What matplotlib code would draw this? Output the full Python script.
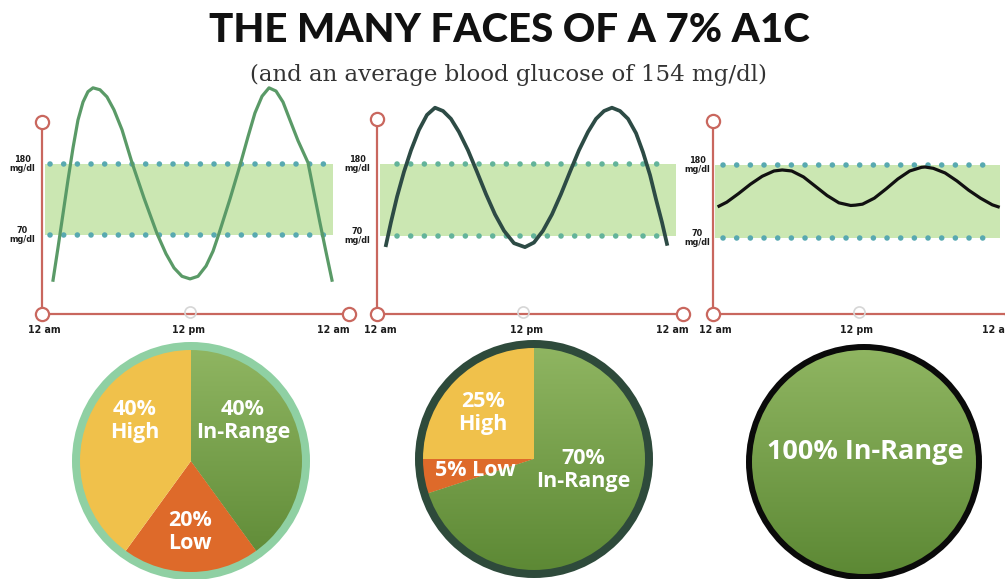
import numpy as np
import matplotlib
matplotlib.use("Agg")
import matplotlib.pyplot as plt
from matplotlib.patches import Circle
from matplotlib.colors import LinearSegmentedColormap

W, H, DPI = 1005, 579, 100

TITLE = "THE MANY FACES OF A 7% A1C"
SUBTITLE = "(and an average blood glucose of 154 mg/dl)"

TARGET_LOW, TARGET_HIGH = 70, 180
TIME_TICKS = [0, 12, 24]
TIME_LABELS = ["12 am", "12 pm", "12 am"]

# Glucose traces over one day: hours since midnight and mg/dl
hours_wide = [0.75, 1.16, 1.58, 1.99, 2.41, 2.82, 3.24, 3.65, 4.07, 4.65, 5.23, 5.81,
              6.48, 7.31, 8.31, 9.39, 10.13, 10.80, 11.46, 12.13, 12.79, 13.46, 14.04,
              14.53, 15.45, 16.28, 16.94, 17.52, 18.11, 18.69, 19.27, 19.85, 20.43,
              21.10, 21.93, 22.43, 22.92, 23.42, 23.92]
glucose_wide = [0, 50, 103, 155, 205, 248, 276, 292, 298, 295, 284, 264,
                233, 182, 127, 72, 41, 19, 6, 2, 6, 22, 45,
                72, 126, 178, 222, 259, 285, 298, 293, 276, 248,
                216, 182, 135, 89, 44, 0]

hours_mid = [0.49, 0.90, 1.40, 1.97, 2.55, 3.20, 3.86, 4.52, 5.18, 5.83, 6.49, 7.23,
             7.97, 8.71, 9.45, 10.19, 11.01, 11.91, 12.65, 13.39, 14.13, 14.87, 15.61,
             16.35, 17.09, 17.75, 18.41, 19.06, 19.72, 20.38, 21.04, 21.61, 22.19,
             22.68, 23.17, 23.58]
glucose_mid = [56, 91, 130, 168, 201, 232, 255, 266, 261, 249, 229, 201,
               168, 134, 103, 78, 59, 53, 60, 78, 103, 134, 168,
               201, 229, 249, 261, 266, 261, 249, 227, 198, 163,
               126, 91, 58]

hours_tight = [0.34, 1.0, 2.0, 3.0, 4.0, 5.0, 5.7, 6.5, 7.5, 8.5, 9.5, 10.5, 11.5, 11.9,
               12.5, 13.5, 14.5, 15.5, 16.5, 17.5, 17.8, 18.5, 19.5, 20.5, 21.5, 22.5,
               23.5, 24.0]
glucose_tight = [118, 124, 137, 151, 163, 171, 172.5, 171, 162, 148, 134, 123, 119, 119.5,
                 121, 130, 144, 159, 171, 176.5, 177, 175, 168, 156, 142, 130,
                 120, 117]

# Share of the day spent in each zone (percent)
ZONES = ["In-Range", "Low", "High"]
share_wide = [40, 20, 40]
share_mid = [70, 5, 25]
share_tight = [100]

AXIS_RED = "#c9675e"
BAND_GREEN = "#cbe7b2"
IN_RANGE = "#74a046"
LOW_ORANGE = "#de6a2a"
HIGH_YELLOW = "#f0c14b"

COND = ["DejaVu Sans"]
PIE_FONT = ["Open Sans", "DejaVu Sans"]

fig = plt.figure(figsize=(W / DPI, H / DPI), dpi=DPI)
fig.patch.set_facecolor("white")


def px_axes(left, top, width, height):
    return fig.add_axes([left / W, 1 - (top + height) / H, width / W, height / H])


def glucose_panel(hours, glucose, spec):
    vx, top_y, base_y, right_x = spec["vx"], spec["top_y"], spec["base_y"], spec["right_x"]
    x0, pph, y70, y180 = spec["x0"], spec["pph"], spec["y70"], spec["y180"]
    mpp = (TARGET_HIGH - TARGET_LOW) / (y70 - y180)
    ax_top = 60
    ax = px_axes(vx, ax_top, spec["band"][1] - vx, base_y - ax_top)

    def hx(px):
        return (px - x0) / pph

    def gy(py):
        return TARGET_LOW + (y70 - py) * mpp

    ax.set_xlim(hx(vx), hx(spec["band"][1]))
    ax.set_ylim(gy(base_y), gy(ax_top))
    ax.axis("off")

    # target band and its dotted edges
    ax.fill_between([hx(spec["band"][0]), hx(spec["band"][1])], TARGET_LOW, TARGET_HIGH,
                    color=BAND_GREEN, lw=0, zorder=1)
    for lvl in (TARGET_LOW, TARGET_HIGH):
        ax.plot([hx(spec["dots"][0]), hx(spec["dots"][1])], [lvl, lvl],
                ls=(0, (0.01, 2.45)), lw=4.0, dash_capstyle="round",
                color=spec["dot"], zorder=2, clip_on=False)

    # glucose trace
    ax.plot(hours, glucose, color=spec["line"], lw=spec["lw"], zorder=4,
            solid_joinstyle="round", clip_on=False)

    # axes drawn as lines with open circle ends
    ax.plot([hx(vx), hx(vx)], [gy(top_y), gy(base_y)], color=AXIS_RED, lw=1.6,
            zorder=5, clip_on=False)
    ax.plot([hx(vx), hx(right_x)], [gy(base_y), gy(base_y)], color=AXIS_RED, lw=1.6,
            zorder=5, clip_on=False)
    for px, py in [(vx, top_y), (vx, base_y), (right_x, base_y)]:
        ax.plot([hx(px)], [gy(py)], "o", ms=9.5, mfc="white", mec=AXIS_RED, mew=1.6,
                zorder=6, clip_on=False)
    ax.plot([hx(spec["mid_x"])], [gy(base_y - 2)], "o", ms=8, mfc="none",
            mec="#d6d6d6", mew=1.2, zorder=6, clip_on=False)

    for t, lab in zip(TIME_TICKS, TIME_LABELS):
        ax.text(t, gy(base_y + 16), lab, ha="center", va="center", fontsize=7.6,
                fontweight="bold", family=COND, fontstretch="condensed",
                color="#1c1c1c", clip_on=False)
    for lvl in (TARGET_HIGH, TARGET_LOW):
        ax.text(hx(spec["label_x"]), lvl, f"{lvl}\nmg/dl", ha="center", va="center",
                fontsize=6.5, fontweight="bold", family=COND, fontstretch="condensed",
                color="#1c1c1c", linespacing=0.95, clip_on=False)
    return ax


panels = [
    (hours_wide, glucose_wide,
     dict(vx=42, top_y=122, base_y=314, right_x=349, x0=44, pph=12.04, y70=235, y180=164,
          band=(45, 333), dots=(50, 326), mid_x=190, label_x=22,
          dot="#58a9b0", line="#5a9a67", lw=2.3)),
    (hours_mid, glucose_mid,
     dict(vx=377, top_y=119, base_y=314, right_x=683, x0=380, pph=12.17, y70=236, y180=164,
          band=(380, 676), dots=(397, 664), mid_x=523, label_x=357,
          dot="#63b39a", line="#2d4b45", lw=2.7)),
    (hours_tight, glucose_tight,
     dict(vx=713, top_y=121, base_y=314, right_x=1012, x0=715, pph=11.8, y70=238, y180=165,
          band=(715, 1000), dots=(723, 995), mid_x=859, label_x=697,
          dot="#58a9b0", line="#111111", lw=2.3)),
]
for hrs, glu, spec in panels:
    glucose_panel(hrs, glu, spec)


def zone_pie(values, cx, cy, border, border_px, labels):
    r, pad = 115, 14
    ax = px_axes(cx - r - pad, cy - r - pad, 2 * (r + pad), 2 * (r + pad))
    colors = [IN_RANGE, LOW_ORANGE, HIGH_YELLOW][:len(values)]
    wedges, _ = ax.pie(values, colors=colors, startangle=90, counterclock=False,
                       radius=1, wedgeprops=dict(linewidth=0))
    # soft vertical shading on the in-range slice
    cmap = LinearSegmentedColormap.from_list("shade", ["#5c8834", "#90b662"])
    grad = np.linspace(0, 1, 256).reshape(-1, 1)
    im = ax.imshow(grad, extent=(-1, 1, -1, 1), origin="lower", cmap=cmap,
                   zorder=wedges[0].get_zorder(), aspect="auto")
    im.set_clip_path(wedges[0])
    ax.add_patch(Circle((0, 0), 1.0, fill=False, ec=border, lw=border_px * 0.72, zorder=5))
    lim = (r + pad) / r
    ax.set_xlim(-lim, lim)
    ax.set_ylim(-lim, lim)
    ax.set_aspect("equal")
    ax.axis("off")
    for text, (px, py), size in labels:
        ax.text((px - cx) / r, (cy - py) / r, text, ha="center", va="center",
                color="white", fontsize=size, fontweight="bold", family=PIE_FONT,
                linespacing=1.15, zorder=6)


zone_pie(share_wide, 191, 461, "#8fd0a3", 8, [
    (f"{share_wide[2]}%\n{ZONES[2]}", (135, 421), 15.5),
    (f"{share_wide[0]}%\n{ZONES[0]}", (243, 421), 15.5),
    (f"{share_wide[1]}%\n{ZONES[1]}", (190, 532), 15.5),
])
zone_pie(share_mid, 534, 459, "#2e4a3b", 8, [
    (f"{share_mid[2]}%\n{ZONES[2]}", (483, 413), 15.5),
    (f"{share_mid[1]}% {ZONES[1]}", (475, 470), 15.5),
    (f"{share_mid[0]}%\n{ZONES[0]}", (583, 470), 15.5),
])
zone_pie(share_tight, 864, 462, "#0a0a0a", 6, [
    (f"{share_tight[0]}% {ZONES[0]}", (865, 452), 19.5),
])

fig.text(509 / W, 1 - 31 / H, TITLE, ha="center", va="center", fontsize=29,
         fontweight="black", family=["Lato", "DejaVu Sans"], color="#111111")
fig.text(508 / W, 1 - 75 / H, SUBTITLE, ha="center", va="center", fontsize=16.5,
         family=["DejaVu Serif"], color="#333333")

fig.savefig("out.png", dpi=DPI, facecolor="white")
